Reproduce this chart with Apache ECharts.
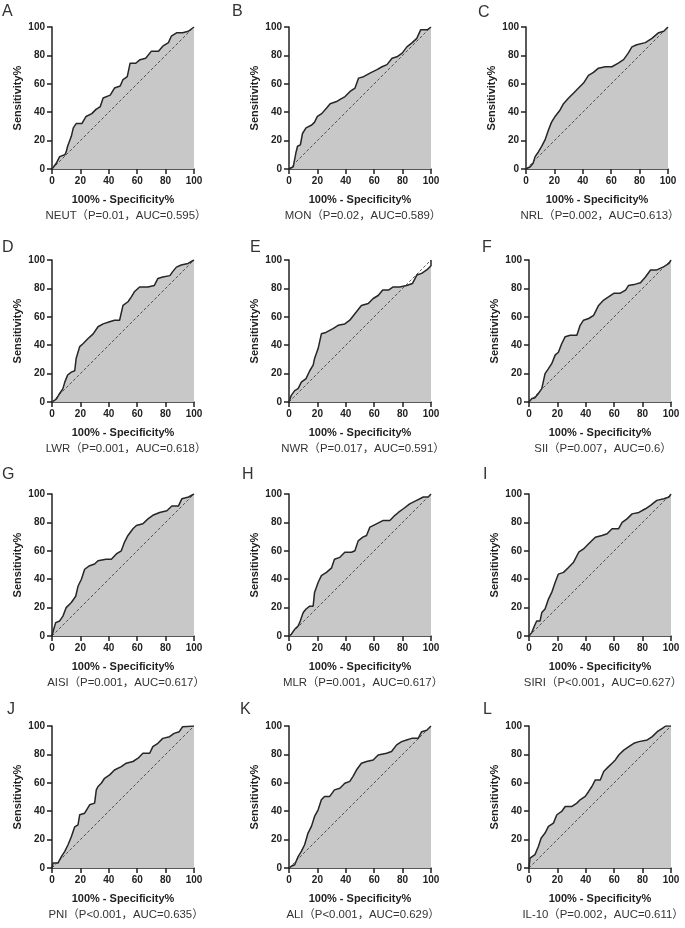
<!DOCTYPE html>
<html lang="en">
<head>
<meta charset="UTF-8">
<title>ROC curves</title>
<script src="https://cdn.jsdelivr.net/npm/echarts@6/dist/echarts.min.js"></script>
<style>
    html, body { margin: 0; padding: 0; background: #fff; }
    #main { width: 685px; height: 928px; }
</style>
</head>
<body>
<div id="main"></div>
<script>
// ROC points: [100% - specificity, sensitivity]
const neut = [[0,0],[3,4],[5.4,8.7],[9,10],[10,12],[11,16],[13.6,23],[15,29],[17,32],[21,32],[24,37],[28,39],[31,42],[34,44],[36,50],[41,52],[44,57],[48,58.5],[50,63],[53,65],[55,74.5],[59,74.5],[62,77],[66,78],[70,83],[75,83],[78,86.5],[82,89],[84,93.5],[88,96],[92,96],[96,97],[100,100]];
const mon = [[0,0],[3,1.6],[5,12],[6,16],[8,17],[9.5,25],[12,29],[16,31],[18,33],[20,37],[23,39],[26.5,43],[29,46],[33.5,47.5],[36,49],[39.5,51],[43,54.6],[46.5,57],[49,64],[52.5,65],[57,67.5],[62,70],[65.5,72],[69,73.5],[72.6,78],[76,79],[79.7,81.6],[83,86],[86.8,89],[90,92],[92.7,98],[97.4,98],[100,100]];
const nrl = [[0,0],[3,1.6],[5,4],[6.4,8.7],[8.7,12],[11,16],[13.4,20.5],[15.8,27.5],[18,33],[20.5,37],[24,41.6],[26.4,46],[30,50],[33.4,53.4],[37,57],[40.5,60.5],[44,66],[47.5,68],[51,71],[55.8,72],[60.5,72],[65,74.6],[68.7,77],[72,81.6],[74.6,86],[78,87.5],[84,89],[88.7,92],[93.4,96],[97,97],[100,100]];
const lwr = [[0,0],[3,2],[5.4,6],[7.7,9.4],[9,14],[11,19],[13.6,21],[16,22],[17,30.6],[19.5,39],[21.8,41],[25.4,44.7],[29,48],[32.4,53],[36,55],[40.6,56.5],[44,57.6],[47.6,57.6],[50,68],[53.5,70.6],[55.9,74],[58,77.6],[61.7,81],[67.6,81],[72,82],[74.6,87],[78,88],[83,89],[85,91.8],[87.6,95],[91,96.5],[95.8,97.6],[100,100]];
const nwr = [[0,0],[1.6,4.7],[4,8],[6.4,9.4],[8.7,14],[12,16.5],[14.6,22],[17,26],[18,30.6],[20.5,37.6],[22.8,48],[26,49],[31,51.7],[34.6,54],[39.3,55],[42.8,57.6],[47.5,63.5],[51,68],[55.8,69.4],[59.3,72.9],[62.8,75],[66,78.8],[70,78.8],[73.4,81],[78,81],[82.8,82],[87,83.5],[90,89.4],[93.4,90.6],[97,93],[100,96],[100,100]];
const sii = [[0,0],[2,2.4],[4,2.8],[6.6,6],[9,9.4],[10,14],[11.3,20],[13.7,23.5],[16,27],[18.4,33],[20.7,35],[23,41],[25.5,46],[29,47],[33.7,47],[36,54],[38.4,57.6],[42,58.8],[45.5,61],[49,68],[52.6,71.8],[56,74],[59.7,76.5],[64,76.5],[68,78.8],[70,82],[75,83],[78.5,84],[82,88],[85.6,93],[90,93],[95,95.3],[98.6,97.6],[100,100]];
const aisi = [[0,0],[1.2,4.7],[2.6,9.4],[5.4,10.6],[7.7,14],[10,20],[13.6,23.6],[16.7,28],[18.3,35],[20.7,40],[23,47],[26.5,49.5],[30,50.7],[32.4,53],[38,54],[41.8,54],[45.3,57.8],[48.8,60],[51,66],[53.5,70.8],[57,75.5],[59.4,77.8],[64,79],[67.6,82.5],[71,85],[75.8,87],[80.9,88.2],[84.4,91.5],[89,91.5],[91.5,96.7],[96.2,97.9],[100,100]];
const mlr = [[0,0],[1.6,1.2],[4,4.7],[6.4,7],[7.5,9.4],[10,16.5],[12,19],[14.6,21],[17,21],[18,30.7],[20.5,37.7],[22.8,42.5],[26.4,44.8],[30,48],[32,54],[35.8,55.4],[39.3,59],[44,59],[46.4,60],[48.7,67],[52,69.6],[54.6,70.8],[57,76.7],[61.6,79],[66.4,81.4],[71,81.4],[74.6,85],[77,87],[80.5,89.6],[85,93],[89.9,95.5],[94.6,97.9],[98,97.9],[100,100]];
const siri = [[0,0],[1.9,2.4],[3.8,7],[5.4,10.6],[7.8,10.6],[9,16.5],[11.3,19],[13.7,26],[16,30.7],[18.4,37.7],[20.7,43.6],[24.3,44.8],[27.8,48.3],[31.4,52],[35,59],[38.4,61.3],[42,65],[46.7,69.6],[51.4,70.8],[55,72],[58.5,75.5],[63,75.5],[65.6,80],[69,82.5],[72.6,86],[77.4,87],[82,89.6],[85.6,92],[90,95.5],[95,96.7],[98.6,97.9],[100,100]];
const pni = [[0,0],[0.7,3.5],[4.2,3.5],[6.6,8],[9,11.7],[11.3,16.4],[13.6,22],[16,29],[18.3,30.4],[19.5,37.5],[23,38.6],[26.5,44.5],[30,45.7],[31.2,55],[32.4,57.4],[34.7,59.7],[37,63.2],[40.6,65.6],[44,69],[48.8,71.4],[52.3,73.8],[57,75],[60.6,77.3],[64,80.8],[68.8,80.8],[71,85.5],[74.6,87.8],[78,91.3],[82.8,92.5],[86,94.8],[89.6,96],[92,99.5],[92.5,100],[100,100]];
const ali = [[0,0],[1.6,1.2],[4,2.3],[6.4,8],[8.7,11.7],[11,16.4],[13.4,24.6],[15.8,29.3],[18,36.3],[20.5,41],[22.8,48],[25,50.4],[28.7,50.4],[32,55],[35.8,56.2],[39.3,59.7],[42.8,61],[45,64.4],[47.5,69],[51,73.8],[54.6,75],[59.3,76.1],[62.8,79.6],[68.7,80.8],[72.2,82],[75.8,86.7],[79.3,89],[82.8,90.2],[86.4,91.3],[91,91.3],[93.4,96],[97,97],[100,100]];
const il10 = [[0,0],[0.7,7],[1.9,8],[4.2,9.4],[6.6,15.2],[8.5,21],[11.3,24.6],[13.7,29.3],[17.2,31.6],[19.6,37.5],[23,39.8],[25.5,43.3],[30,43.3],[33.7,45.7],[36,48],[39.6,50.4],[42,53.9],[44.3,57.4],[46.7,62],[50.2,62],[52.6,67.9],[56,71.4],[58.5,73.8],[60.8,76.1],[63.2,79.6],[66.7,83],[70.3,85.5],[73.8,87.8],[77.4,89],[83.3,90.2],[86.8,92.5],[90.3,96],[93.9,98.4],[96.2,100],[100,100]];
const diag = [[0,0],[100,100]];

const letters = ['A','B','C','D','E','F','G','H','I','J','K','L'];
const markers = ['NEUT','MON','NRL','LWR','NWR','SII','AISI','MLR','SIRI','PNI','ALI','IL-10'];
const pValues = ['P=0.01','P=0.02','P=0.002','P=0.001','P=0.017','P=0.007','P=0.001','P=0.001','P<0.001','P<0.001','P<0.001','P=0.002'];
const aucValues = ['0.595','0.589','0.613','0.618','0.591','0.6','0.617','0.617','0.627','0.635','0.629','0.611'];
const curves = [neut, mon, nrl, lwr, nwr, sii, aisi, mlr, siri, pni, ali, il10];

// layout of the 12 panels (px)
const plotLeft = [52,289,526, 52,289,529, 52,289,529, 52,289,529];
const plotTop = [27,27,27, 260,260,260, 494,494,494, 726,726,726];
const letterLeft = [2,232,478, 2,250,482, 2,242,483, 7,240,483];
const letterTop = [4,4,5, 240,240,240, 467,467,467, 702,702,702];
const SIZE = 142;

const FONT = 'Liberation Sans, Arial, Helvetica, sans-serif';
const INK = '#222';

let grids = [], xAxes = [], yAxes = [], titles = [], series = [];

for (let i = 0; i < 12; i++) {
    grids.push({ left: plotLeft[i], top: plotTop[i], width: SIZE, height: SIZE });

    let axisBase = {
        gridIndex: i,
        type: 'value',
        min: 0,
        max: 100,
        interval: 20,
        nameLocation: 'middle',
        nameTextStyle: { fontFamily: FONT, fontWeight: 'bold', fontSize: 11, color: INK },
        axisLine: { show: true, onZero: false, lineStyle: { color: INK, width: 1.5 } },
        axisTick: { show: true, inside: false, length: 5, lineStyle: { color: INK, width: 1.5 } },
        axisLabel: { fontFamily: FONT, fontWeight: 'bold', fontSize: 10, color: INK, margin: 7 },
        splitLine: { show: false }
    };
    xAxes.push(Object.assign({}, axisBase, { name: '100% - Specificity%', nameGap: 25 }));
    yAxes.push(Object.assign({}, axisBase, { name: 'Sensitivity%', nameGap: 29, nameRotate: 90 }));

    // panel letter
    titles.push({
        text: letters[i],
        left: letterLeft[i],
        top: letterTop[i],
        padding: 0,
        textStyle: { fontFamily: FONT, fontWeight: 'normal', fontSize: 16, color: '#333' }
    });
    // caption under each panel
    titles.push({
        text: markers[i] + '（' + pValues[i] + '，AUC=' + aucValues[i] + '）',
        left: plotLeft[i] + SIZE / 2 + 3,
        top: plotTop[i] + SIZE + 41,
        textAlign: 'center',
        padding: 0,
        textStyle: { fontFamily: FONT + ', Noto Sans CJK SC', fontWeight: 'normal', fontSize: 11.4, color: '#333' }
    });

    series.push({
        type: 'line',
        xAxisIndex: i,
        yAxisIndex: i,
        data: curves[i],
        showSymbol: false,
        lineStyle: { color: '#262626', width: 1.5 },
        areaStyle: { color: '#c8c8c8', opacity: 1 },
        z: 2
    });
    series.push({
        type: 'line',
        xAxisIndex: i,
        yAxisIndex: i,
        data: diag,
        showSymbol: false,
        lineStyle: { color: '#333', width: 0.8, type: [3, 2] },
        z: 3
    });
}

let myChart = echarts.init(document.getElementById('main'));
myChart.setOption({
    backgroundColor: '#fff',
    animation: false,
    title: titles,
    grid: grids,
    xAxis: xAxes,
    yAxis: yAxes,
    series: series
});
</script>
</body>
</html>
